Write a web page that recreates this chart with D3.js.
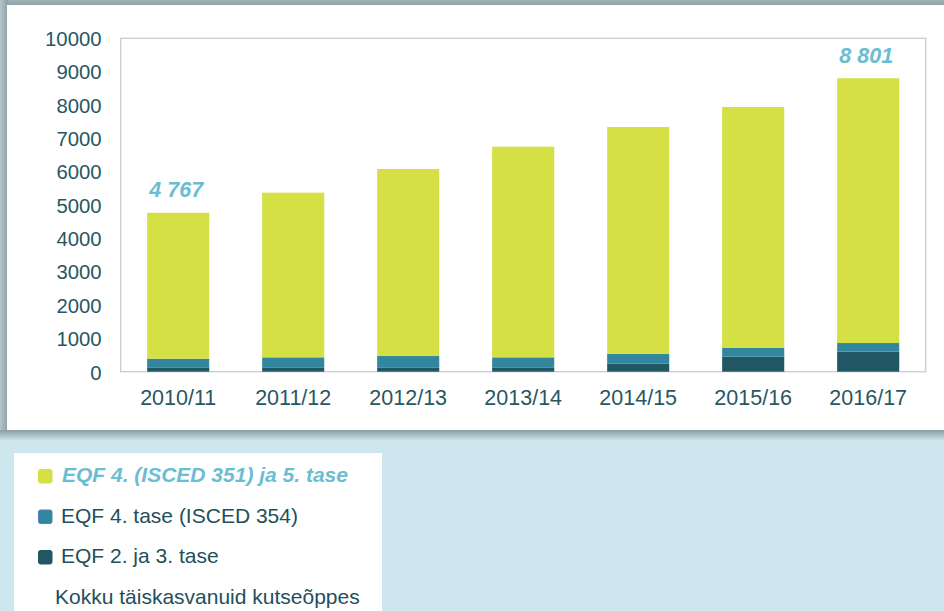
<!DOCTYPE html>
<html><head><meta charset="utf-8">
<script src="https://cdn.jsdelivr.net/npm/d3@7"></script>
<style>html,body{margin:0;padding:0;background:#cee7ee;}svg{display:block;}</style>
</head><body>
<svg id="c" width="944" height="611"></svg>
<script>
const categories = ["2010/11","2011/12","2012/13","2013/14","2014/15","2015/16","2016/17"];
const eqf23 = [130, 130, 130, 130, 240, 450, 600];
const eqf4_354 = [260, 300, 340, 300, 290, 270, 260];
const totals = [4767, 5370, 6080, 6750, 7340, 7940, 8801];
const eqf4_351_5 = totals.map((t, i) => t - eqf23[i] - eqf4_354[i]);
const yTicks = [0,1000,2000,3000,4000,5000,6000,7000,8000,9000,10000];
const labelled = [{cat:"2010/11", text:"4 767", value:4767}, {cat:"2016/17", text:"8 801", value:8801}];
const legendItems = [
  {name:"EQF 4. (ISCED 351) ja 5. tase", color:"#d4e043", stroke:"#d4e043", italic:true},
  {name:"EQF 4. tase (ISCED 354)", color:"#32879e", stroke:"#4f81bd", italic:false},
  {name:"EQF 2. ja 3. tase", color:"#215765", stroke:"#215765", italic:false},
  {name:"Kokku täiskasvanuid kutseõppes", color:null, italic:false}
];

const svg = d3.select("#c");
const font = "'Liberation Sans', Arial, sans-serif";
const defs = svg.append("defs");
const gB = defs.append("linearGradient").attr("id","shB").attr("x1",0).attr("y1",0).attr("x2",0).attr("y2",1);
gB.append("stop").attr("offset","0").attr("stop-color","#8a9ea4");
gB.append("stop").attr("offset","1").attr("stop-color","#cee7ee");
const gT = defs.append("linearGradient").attr("id","shT").attr("x1",0).attr("y1",0).attr("x2",0).attr("y2",1);
gT.append("stop").attr("offset","0").attr("stop-color","#9fb2b7");
gT.append("stop").attr("offset","1").attr("stop-color","#8d9fa5");
const gL = defs.append("linearGradient").attr("id","shL").attr("x1",0).attr("y1",0).attr("x2",1).attr("y2",0);
gL.append("stop").attr("offset","0").attr("stop-color","#b3c6cc");
gL.append("stop").attr("offset","1").attr("stop-color","#8d9fa5");

svg.append("rect").attr("width",944).attr("height",611).attr("fill","#cee7ee");
svg.append("rect").attr("x",0).attr("y",0).attr("width",944).attr("height",6).attr("fill","url(#shT)");
svg.append("rect").attr("x",0).attr("y",0).attr("width",8).attr("height",432).attr("fill","url(#shL)");
svg.append("rect").attr("x",0).attr("y",430).attr("width",944).attr("height",11).attr("fill","url(#shB)");
svg.append("rect").attr("x",7).attr("y",5).attr("width",937).attr("height",425).attr("fill","#ffffff");

const x0 = 120.7, x1 = 925.7, yTop = 38.3, yBot = 371.7;
const x = d3.scaleBand().domain(categories).range([x0, x1]).paddingInner(0.46).paddingOuter(0.23);
const y = d3.scaleLinear().domain([0, 10000]).range([yBot, yTop]);

svg.append("rect").attr("x",x0).attr("y",yTop).attr("width",x1-x0).attr("height",yBot-yTop)
  .attr("fill","none").attr("stroke","#cccccc").attr("stroke-width",1.3);

const stackData = categories.map((c,i)=>({cat:c, a:eqf23[i], b:eqf4_354[i], c:eqf4_351_5[i]}));
const stack = d3.stack().keys(["a","b","c"])(stackData);
const colors = {a:"#215765", b:"#32879e", c:"#d4e043"};
svg.append("g").selectAll("g").data(stack).join("g").attr("fill", d=>colors[d.key])
  .selectAll("rect").data(d=>d).join("rect")
  .attr("x", d=>x(d.data.cat)).attr("width", x.bandwidth())
  .attr("y", d=>y(d[1])).attr("height", d=>y(d[0])-y(d[1]));

const yAxis = d3.axisLeft(y).tickValues(yTicks).tickFormat(d3.format("d")).tickSize(0).tickPadding(0);
const gy = svg.append("g").attr("transform",`translate(101.5,0)`).call(yAxis);
gy.select(".domain").remove();
gy.selectAll("text").attr("font-family",font).attr("font-size",20.3).attr("fill","#285763").attr("dy","0.36em");

const xAxis = d3.axisBottom(x).tickSize(0).tickPadding(0);
const gx = svg.append("g").attr("transform",`translate(0,${yBot})`).call(xAxis);
gx.select(".domain").remove();
gx.selectAll("text").attr("font-family",font).attr("font-size",21.5).attr("fill","#285763").attr("dy",null).attr("y",33);

svg.append("g").selectAll("text").data(labelled).join("text")
  .attr("x", d=>x(d.cat)+x.bandwidth()/2 - 2)
  .attr("y", d=>y(d.value)-15.5)
  .attr("text-anchor","middle").attr("font-family",font).attr("font-size",21.5)
  .attr("font-weight","bold").attr("font-style","italic").attr("fill","#6bbdd2")
  .text(d=>d.text);

svg.append("rect").attr("x",14).attr("y",453).attr("width",368).attr("height",158).attr("fill","#ffffff");
const lg = svg.append("g").selectAll("g").data(legendItems).join("g")
  .attr("transform",(d,i)=>`translate(0,${482 + i*40.5})`);
lg.filter(d=>d.color).append("rect").attr("x",38.5).attr("y",-12.5).attr("width",13.5).attr("height",13.5)
  .attr("rx",2).attr("fill",d=>d.color).attr("stroke",d=>d.stroke).attr("stroke-width",1);
lg.append("text").attr("x",(d,i)=> d.color ? (d.italic ? 62 : 61) : 55).attr("y",0)
  .attr("font-family",font).attr("font-size",21)
  .attr("font-weight",d=>d.italic?"bold":"normal").attr("font-style",d=>d.italic?"italic":"normal")
  .attr("fill",d=>d.italic?"#6bbdd2":"#224f5b").text(d=>d.name);
</script>
</body></html>
